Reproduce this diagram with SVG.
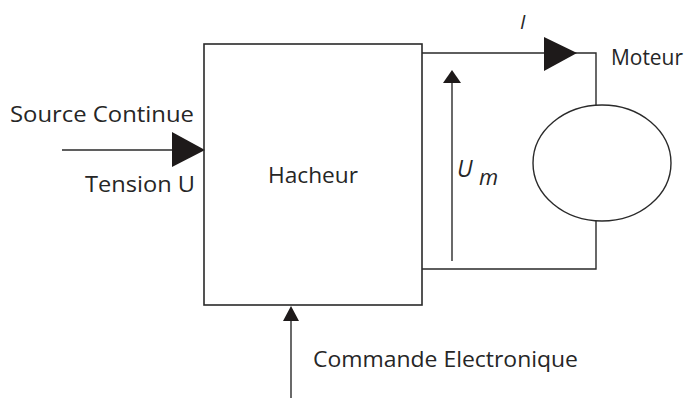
<svg xmlns="http://www.w3.org/2000/svg" width="693" height="402" viewBox="0 0 693 402">
<style>
.ln{fill:none;stroke:#2a2a2a;stroke-width:1.4}
.ah{fill:#1e1a1a;stroke:none}
.t{font-family:"Open Sans","DejaVu Sans",sans-serif;font-size:21px;fill:#262626}
.i{font-family:"Open Sans","DejaVu Sans",sans-serif;font-style:italic;fill:#262626}
</style>
<rect width="693" height="402" fill="#fff"/>
<g id="connectors">
<line class="ln" x1="62" y1="150" x2="174" y2="150"/>
<polygon class="ah" points="172,132 205,150 172,167"/>
<polyline class="ln" points="422,53 596,53 596,105"/>
<polygon class="ah" points="544,37 577,53 544,71"/>
<polyline class="ln" points="596,221 596,269 422,269"/>
<line class="ln" x1="452" y1="261" x2="452" y2="80"/>
<polygon class="ah" points="452,70 461,83 443,83"/>
<line class="ln" x1="291" y1="398" x2="291" y2="318"/>
<polygon class="ah" points="291,306 299,321 283,321"/>
</g>
<g id="hacheur">
<rect class="ln" x="204" y="44" width="218" height="261" style="stroke-width:1.6"/>
<text class="t" x="268" y="183" textLength="90" lengthAdjust="spacingAndGlyphs">Hacheur</text>
</g>
<g id="moteur">
<ellipse class="ln" cx="602" cy="163" rx="69" ry="58"/>
<text class="t" x="611" y="65" textLength="72" lengthAdjust="spacingAndGlyphs">Moteur</text>
</g>
<g id="labels">
<text class="t" x="10" y="122" textLength="184" lengthAdjust="spacingAndGlyphs">Source Continue</text>
<text class="t" x="85" y="192" textLength="110" lengthAdjust="spacingAndGlyphs">Tension U</text>
<text class="t" x="313" y="367" textLength="265" lengthAdjust="spacingAndGlyphs">Commande Electronique</text>
<text class="i" x="520" y="29" font-size="20">I</text>
<text class="i" x="457" y="177" font-size="23">U</text>
<text class="i" x="479" y="185" font-size="22">m</text>
</g>
</svg>
